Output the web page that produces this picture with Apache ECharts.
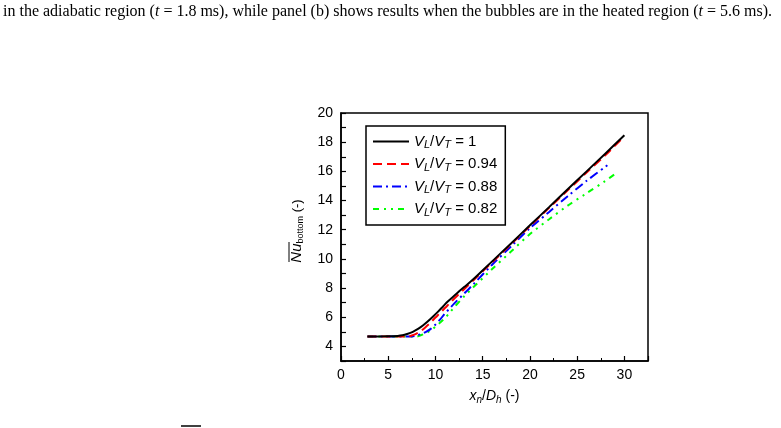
<!DOCTYPE html>
<html>
<head>
<meta charset="utf-8">
<script src="https://cdn.jsdelivr.net/npm/echarts@6/dist/echarts.min.js"></script>
<style>
  html, body { margin: 0; padding: 0; background: #fff; }
  #chart { width: 781px; height: 428px; }
</style>
</head>
<body>
<div id="chart"></div>
<script>
// data
const legendNames = ['1', '0.94', '0.88', '0.82'];
const seriesColors = ['#000000', '#ff0000', '#0000ff', '#00ff00'];

const xBlack = [2.8, 4, 5, 6, 6.5, 7, 7.6, 8.2, 8.7, 9.2, 9.75, 10.3, 10.8, 11.3, 11.9, 13, 14, 16, 18, 20, 22, 24, 26, 28, 30];
const yBlack = [4.68, 4.68, 4.69, 4.72, 4.76, 4.85, 5.0, 5.22, 5.45, 5.72, 6.05, 6.4, 6.74, 7.08, 7.42, 8.05, 8.6, 9.83, 11.06, 12.3, 13.53, 14.77, 16.0, 17.23, 18.47];

const xRed = [2.8, 5, 7, 7.5, 8, 8.5, 9, 9.5, 10, 10.5, 11, 11.5, 12, 12.5, 13, 14, 16, 18, 20, 22, 24, 26, 28, 29.65];
const yRed = [4.68, 4.68, 4.68, 4.75, 4.88, 5.08, 5.35, 5.65, 5.98, 6.3, 6.63, 6.95, 7.28, 7.6, 7.9, 8.52, 9.77, 11.0, 12.25, 13.48, 14.7, 15.92, 17.12, 18.18];

const xBlue = [2.8, 5, 7.5, 8, 8.5, 9, 9.5, 10, 10.5, 11, 11.5, 12, 13, 14, 16, 18, 20, 22, 24, 26, 28.2];
const yBlue = [4.68, 4.68, 4.68, 4.75, 4.85, 5.0, 5.2, 5.5, 5.85, 6.25, 6.6, 6.95, 7.6, 8.25, 9.6, 10.85, 12.1, 13.2, 14.3, 15.35, 16.42];

const xGreen = [2.8, 5, 8, 8.5, 9, 9.5, 10, 10.5, 11, 11.5, 12, 12.5, 13, 14, 16, 18, 20, 22, 24, 26, 28, 29.1];
const yGreen = [4.68, 4.68, 4.68, 4.78, 4.9, 5.1, 5.35, 5.63, 5.95, 6.3, 6.7, 7.05, 7.4, 8.05, 9.3, 10.5, 11.7, 12.7, 13.65, 14.5, 15.35, 15.86];

const xTicks = [0, 5, 10, 15, 20, 25, 30];
const yTicks = [4, 6, 8, 10, 12, 14, 16, 18, 20];

const dashes = ['solid', [9, 5], [9, 4, 2, 4], [6, 5, 2, 5, 2, 5]];

const pairs = (xs, ys) => xs.map((x, i) => [x, ys[i]]);
const lines = [
  pairs(xBlack, yBlack),
  pairs(xRed, yRed),
  pairs(xBlue, yBlue),
  pairs(xGreen, yGreen),
];

const chart = echarts.init(document.getElementById('chart'));
const sans = '"Liberation Sans", Arial, sans-serif';
const serif = '"Liberation Serif", "Times New Roman", serif';

const option = {
  animation: false,
  grid: {
    left: 341, right: 133, top: 113, bottom: 67,
    show: true, borderColor: '#000', borderWidth: 1.5,
  },
  xAxis: {
    type: 'value', min: 0, max: 32.5, interval: 5,
    axisLine: { lineStyle: { color: '#000', width: 1.5 } },
    axisTick: { inside: true, length: 5, lineStyle: { color: '#000', width: 1.2 } },
    minorTick: { show: true, splitNumber: 2, length: 3, lineStyle: { color: '#000', width: 1 } },
    splitLine: { show: false },
    axisLabel: {
      color: '#000', fontSize: 14, fontFamily: sans, margin: 7,
      formatter: v => (xTicks.includes(v) ? String(v) : ''),
    },
    name: '{i|x}{si|n}{r|/}{i|D}{si|h}{r| (-)}',
    nameLocation: 'middle', nameGap: 27,
    nameTextStyle: {
      rich: {
        i: { fontSize: 14, fontStyle: 'italic', fontFamily: sans, color: '#000' },
        si: { fontSize: 10, fontStyle: 'italic', fontFamily: sans, color: '#000', padding: [7, 0, 0, 0] },
        r: { fontSize: 14, fontFamily: sans, color: '#000' },
      },
    },
  },
  yAxis: {
    type: 'value', min: 3, max: 20, interval: 1,
    axisLine: { lineStyle: { color: '#000', width: 1.5 } },
    axisTick: { inside: true, length: 5, lineStyle: { color: '#000', width: 1.2 } },
    splitLine: { show: false },
    axisLabel: {
      color: '#000', fontSize: 14, fontFamily: sans, margin: 8,
      formatter: v => (yTicks.includes(v) ? String(v) : ''),
    },
  },
  legend: {
    orient: 'vertical',
    left: 366, top: 126,
    padding: [8, 8, 7, 6],
    itemGap: 6,
    itemWidth: 36, itemHeight: 14,
    borderColor: '#000', borderWidth: 1.5,
    data: legendNames,
    itemStyle: { opacity: 0 },
    formatter: n => '{i|V}{s|L}{r|/}{i|V}{s|T}{r| = ' + n + '}',
    textStyle: {
      rich: {
        i: { fontSize: 15, fontStyle: 'italic', fontFamily: sans, color: '#000' },
        s: { fontSize: 11, fontStyle: 'italic', fontFamily: sans, color: '#000', padding: [7, 0, 0, 0] },
        r: { fontSize: 15, fontFamily: sans, color: '#000' },
      },
    },
  },
  series: lines.map((d, i) => ({
    name: legendNames[i],
    type: 'line',
    data: d,
    smooth: 0.3,
    symbol: 'none',
    z: 10 - i,
    lineStyle: { color: seriesColors[i], width: 2, type: dashes[i] },
    itemStyle: { color: seriesColors[i] },
  })),
  graphic: [
    {
      type: 'text', left: 3, top: 4,
      style: {
        text: '{r|in the adiabatic region (}{i|t}{r| = 1.8 ms), while panel (b) shows results when the bubbles are in the heated region (}{i|t}{r| = 5.6 ms).}',
        rich: {
          r: { fontSize: 16, fontFamily: serif, fill: '#000' },
          i: { fontSize: 16, fontFamily: serif, fontStyle: 'italic', fill: '#000' },
        },
      },
    },
    {
      // y axis title, rotated
      type: 'text', x: 297, y: 231, rotation: Math.PI / 2,
      style: {
        text: '{i|Nu}{s|bottom}{r| (-)}',
        align: 'center', verticalAlign: 'middle',
        rich: {
          i: { fontSize: 15, fontStyle: 'italic', fontFamily: sans, fill: '#000' },
          s: { fontSize: 9, fontFamily: sans, fill: '#000', padding: [8, 0, 0, 0] },
          r: { fontSize: 13, fontFamily: sans, fill: '#000' },
        },
      },
    },
    {
      type: 'line',
      shape: { x1: 289, y1: 242, x2: 289, y2: 262 },
      style: { stroke: '#000', lineWidth: 1 },
    },
    {
      type: 'line',
      shape: { x1: 181, y1: 426, x2: 201, y2: 426 },
      style: { stroke: '#000', lineWidth: 1.5 },
    },
  ],
};

chart.setOption(option);
</script>
</body>
</html>
